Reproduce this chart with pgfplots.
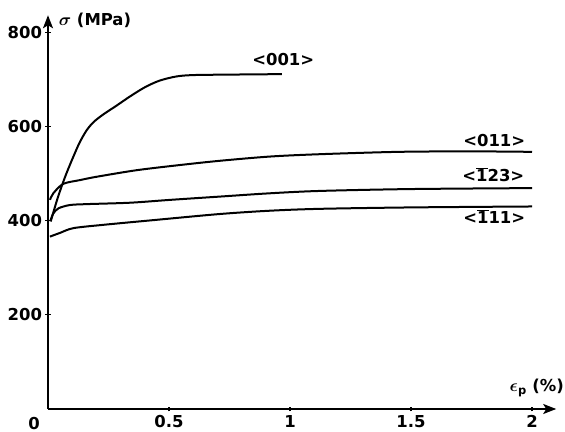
\documentclass[border=0pt]{standalone}
\usepackage{fontspec}
\setmainfont{DejaVu Sans}
\usepackage{bm}
\usepackage{pgfplots}
\pgfplotsset{compat=1.18}
\usetikzlibrary{arrows.meta}

\newcommand\bd[1]{\ensuremath{\overline{\mbox{#1}}}}
\tikzset{bigtip/.tip={Stealth[length=13bp,width=10bp,inset=3bp]}}

\begin{document}
\begin{tikzpicture}
\useasboundingbox (-48bp,-23bp) rectangle (517bp,409bp);
\begin{axis}[
  at={(0,0)}, anchor=south west,
  scale only axis,
  x=242bp, y=0.471bp,
  xmin=0, xmax=2.1, ymin=0, ymax=836,
  axis x line=bottom, axis y line=left,
  every outer x axis line/.style={-bigtip},
  every outer y axis line/.style={-bigtip},
  x axis line style={line width=1.8bp, -bigtip},
  y axis line style={line width=1.8bp, -bigtip},
  xtick={0.5,1,1.5,2}, ytick={200,400,600,800},
  xticklabels={0.5,1,1.5,2},
  tick align=center, major tick length=5bp,
  tick style={black, line width=1.2bp},
  font=\bfseries\fontsize{16.5}{19}\selectfont,
  /pgf/number format/assume math mode=true,
  clip=false,
]
% <001>
\addplot[smooth, line width=2bp] coordinates {
  (0.011,398) (0.04,448) (0.07,492) (0.10,530) (0.13,565) (0.16,592)
  (0.19,610) (0.23,626) (0.28,643) (0.34,664) (0.40,683) (0.46,697)
  (0.53,706) (0.60,709) (0.75,710) (0.966,711)};
% <011>
\addplot[smooth, line width=2bp] coordinates {
  (0.008,444) (0.022,458) (0.063,478) (0.132,486) (0.20,493) (0.366,507)
  (0.545,518) (0.71,527) (0.917,536) (1.124,541) (1.45,546) (1.75,547) (2.0,546)};
% <-123>
\addplot[smooth, line width=2bp] coordinates {
  (0.011,401) (0.022,415) (0.043,426) (0.09,433) (0.16,435) (0.34,438)
  (0.504,444) (0.71,451) (0.917,458) (1.124,463) (1.5,467) (2.0,469)};
% <-111>
\addplot[smooth, line width=2bp] coordinates {
  (0.008,366) (0.05,374) (0.105,384) (0.228,391) (0.435,401) (0.71,414)
  (0.917,421) (1.124,425) (1.5,428) (2.0,430)};

\node at (axis cs:0.972,741) {<001>};
\node at (axis cs:1.844,571) {<011>};
\node at (axis cs:1.84,497) {<\bd{1}23>};
\node at (axis cs:1.844,408) {<\bd{1}11>};

\node[xshift=-14bp, yshift=-14.5bp] at (axis cs:0,0) {0};
\node at (axis cs:0.194,826) {$\bm{\sigma}$ (MPa)};
\node at (axis cs:2.02,45) {$\bm{\epsilon}_{\mathbf{p}}$ (\%)};
\end{axis}
\end{tikzpicture}
\end{document}
